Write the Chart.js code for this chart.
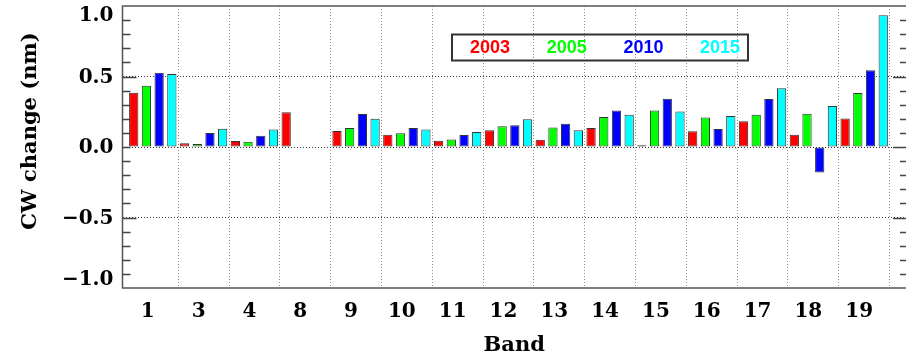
<!DOCTYPE html>
<html>
<head>
<meta charset="utf-8">
<script src="https://cdn.jsdelivr.net/npm/chart.js@4.4.1/dist/chart.umd.min.js"></script>
<style>
  html, body { margin: 0; padding: 0; background: #ffffff; }
  canvas { display: block; }
</style>
</head>
<body>
<canvas id="c" width="906" height="356"></canvas>
<script>
// ---- data ----
const bands = ['1', '3', '4', '8', '9', '10', '11', '12', '13', '14', '15', '16', '17', '18', '19'];
const years = ['2003', '2005', '2010', '2015'];
const cw2003 = [0.385, 0.026, 0.043, 0.246, 0.113, 0.087, 0.045, 0.118, 0.052, 0.135, 0.012, 0.111, 0.182, 0.087, 0.203];
const cw2005 = [0.435, 0.021, 0.038, null, 0.135, 0.097, 0.054, 0.147, 0.139, 0.213, 0.258, 0.210, 0.229, 0.236, 0.383];
const cw2010 = [0.527, 0.100, 0.080, null, 0.234, 0.135, 0.085, 0.154, 0.165, 0.258, 0.343, 0.128, 0.340, -0.180, 0.544];
const cw2015 = [0.518, 0.130, 0.125, null, 0.200, 0.125, 0.106, 0.196, 0.118, 0.229, 0.251, 0.220, 0.416, 0.290, 0.934];
const yTickValues = [-1.0, -0.5, 0.0, 0.5, 1.0];
const yTickLabels = ['\u22121.0', '\u22120.5', '0.0', '0.5', '1.0'];
const yMinorStep = 0.1;
const yTitle = 'CW change (nm)';
const xTitle = 'Band';

const seriesColors = ['#ff0000', '#00ff00', '#0000ff', '#00ffff'];
const series = [cw2003, cw2005, cw2010, cw2015];

const serif = '"DejaVu Serif", serif';

const decorPlugin = {
  id: 'decor',
  afterDraw(chart) {
    const ctx = chart.ctx;
    const ca = chart.chartArea;
    const ys = chart.scales.y;
    const L = ca.left, R = ca.right + 1, T = ca.top, B = ca.bottom;
    ctx.save();
    // frame
    ctx.strokeStyle = '#555';
    ctx.lineWidth = 1.5;
    ctx.beginPath();
    ctx.moveTo(R, T); ctx.lineTo(L, T); ctx.lineTo(L, B); ctx.lineTo(R, B);
    ctx.stroke();
    // minor/major ticks on left and right (inward)
    ctx.strokeStyle = '#444';
    ctx.lineWidth = 1.3;
    const n = Math.round(2 / yMinorStep);
    for (let k = 1; k < n; k++) {
      const v = -1 + k * yMinorStep;
      const y = Math.round(ys.getPixelForValue(v)) + 0.5;
      const isHalf = Math.abs(Math.abs(v) - 0.5) < 1e-6;
      const isZero = Math.abs(v) < 1e-6;
      const lenL = isHalf ? 14 : 8;
      const lenR = (isHalf || isZero) ? 14 : 7;
      ctx.beginPath();
      ctx.moveTo(L, y); ctx.lineTo(L + lenL, y);
      ctx.moveTo(R, y); ctx.lineTo(R - lenR, y);
      ctx.stroke();
    }
    // y tick labels
    ctx.fillStyle = '#000';
    ctx.font = 'bold 20px ' + serif;
    ctx.textAlign = 'right';
    ctx.textBaseline = 'middle';
    yTickValues.forEach((v, i) => {
      let y = ys.getPixelForValue(v) + 1;
      if (v === ys.max) y += 9;
      if (v === ys.min) y -= 9;
      ctx.fillText(yTickLabels[i], L - 9, y);
    });
    // y title
    ctx.save();
    ctx.translate(31, 131);
    ctx.rotate(-Math.PI / 2);
    ctx.textAlign = 'center';
    ctx.textBaseline = 'middle';
    ctx.font = 'bold 21px ' + serif;
    ctx.fillText(yTitle, 0, 0);
    ctx.restore();
    // legend box
    const bx = 452, by = 34.5, bw = 296, bh = 26;
    ctx.strokeStyle = '#333';
    ctx.lineWidth = 2;
    ctx.strokeRect(bx, by, bw, bh);
    ctx.font = 'bold 18px "Liberation Sans", Arial, sans-serif';
    ctx.textAlign = 'center';
    ctx.textBaseline = 'middle';
    chart.data.datasets.forEach((ds, i) => {
      ctx.fillStyle = ds.backgroundColor;
      ctx.fillText(ds.label, 490 + i * 76.7, by + bh / 2 + 1);
    });
    ctx.restore();
  }
};

new Chart(document.getElementById('c'), {
  type: 'bar',
  data: {
    datasets: series.map((vals, s) => ({
      label: years[s],
      data: vals.map((v, i) => ({ x: i, y: v })),
      backgroundColor: seriesColors[s],
      borderColor: '#333',
      borderWidth: 1,
      borderSkipped: false,
      categoryPercentage: 1.0,
      barPercentage: 0.73
    }))
  },
  plugins: [decorPlugin],
  options: {
    responsive: false,
    animation: false,
    layout: { padding: { top: 6, right: 0, left: 0, bottom: 0 } },
    plugins: { legend: { display: false }, tooltip: { enabled: false } },
    scales: {
      x: {
        type: 'linear',
        offset: false,
        min: -0.596,
        max: 14.823,
        afterBuildTicks: (scale) => { scale.ticks = bands.map((b, i) => ({ value: i })); },
        afterFit: (scale) => { scale.height = 68; },
        ticks: {
          autoSkip: false,
          maxRotation: 0,
          labelOffset: -5,
          padding: 12,
          color: '#000',
          font: { family: serif, size: 20, weight: 'bold' },
          callback: (value) => bands[value]
        },
        grid: {
          offset: true,
          drawTicks: false,
          lineWidth: 1,
          color: (c) => (c.index === 0 || c.index >= bands.length) ? 'rgba(0,0,0,0)' : '#8a8a8a'
        },
        border: { display: false, dash: [1, 2] },
        title: {
          display: true,
          text: xTitle,
          color: '#000',
          font: { family: serif, size: 21, weight: 'bold', lineHeight: 1 },
          padding: { top: 0, bottom: 0 }
        }
      },
      y: {
        min: -1,
        max: 1,
        afterBuildTicks: (scale) => { scale.ticks = yTickValues.map(v => ({ value: v })); },
        afterFit: (scale) => { scale.width = 122.5; },
        ticks: { display: false },
        grid: {
          drawTicks: false,
          lineWidth: 1,
          color: (c) => (c.tick && Math.abs(c.tick.value) < 0.99) ? '#333' : 'rgba(0,0,0,0)'
        },
        border: { display: false, dash: [1, 2] }
      }
    }
  }
});
</script>
</body>
</html>
